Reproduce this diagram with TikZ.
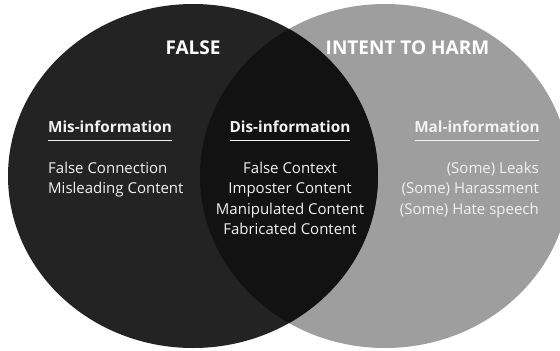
\documentclass[tikz,border=0pt]{standalone}
\usepackage{fontspec}
\setmainfont{Open Sans}
\definecolor{leftc}{HTML}{232323}
\definecolor{rightc}{HTML}{9E9E9E}
\definecolor{midc}{HTML}{121212}
\definecolor{txt}{HTML}{F2F2F2}
\begin{document}
\begin{tikzpicture}[x=1pt,y=-1pt,
  bigtitle/.style={text=white,font=\fontsize{19}{19}\selectfont\bfseries,anchor=base,inner sep=0pt},
  headtxt/.style={text=txt,font=\fontsize{15.3}{15.3}\selectfont\bfseries,anchor=base,inner sep=0pt},
  bodytxt/.style={text=txt,font=\fontsize{15}{15}\selectfont,inner sep=0pt},
  rule/.style={draw=txt,line width=1pt}]
\useasboundingbox (0,0) rectangle (560,351);
\fill[rightc] (385,176) ellipse [x radius=185,y radius=172];
\fill[leftc] (193,176) ellipse [x radius=185,y radius=172];
\begin{scope}
  \clip (193,176) ellipse [x radius=185,y radius=172];
  \fill[midc] (385,176) ellipse [x radius=185,y radius=172];
\end{scope}
\node[bigtitle] (false) at (193,54) {FALSE};
\node[bigtitle] (harm) at (407.5,54) {INTENT TO HARM};
% headings
\node[headtxt] (mis) at (110,132) {Mis-information};
\node[headtxt] (dis) at (290,132) {Dis-information};
\node[headtxt] (mal) at (477,132) {Mal-information};
\coordinate (misL) at (48,140); \coordinate (misR) at (172,140);
\coordinate (disL) at (230,140); \coordinate (disR) at (350,140);
\coordinate (malL) at (415,140); \coordinate (malR) at (539,140);
\draw[rule] (misL) -- (misR);
\draw[rule] (disL) -- (disR);
\draw[rule] (malL) -- (malR);
% left
\node[bodytxt,anchor=base west] (m1) at (48,173) {False Connection};
\node[bodytxt,anchor=base west] (m2) at (48,193.5) {Misleading Content};
% middle
\node[bodytxt,anchor=base] (d1) at (290,173) {False Context};
\node[bodytxt,anchor=base] (d2) at (290,193.5) {Imposter Content};
\node[bodytxt,anchor=base] (d3) at (290,214) {Manipulated Content};
\node[bodytxt,anchor=base] (d4) at (290,234.5) {Fabricated Content};
% right
\node[bodytxt,anchor=base east] (r1) at (539,173) {(Some) Leaks};
\node[bodytxt,anchor=base east] (r2) at (539,193.5) {(Some) Harassment};
\node[bodytxt,anchor=base east] (r3) at (539,214) {(Some) Hate speech};
\end{tikzpicture}
\end{document}
